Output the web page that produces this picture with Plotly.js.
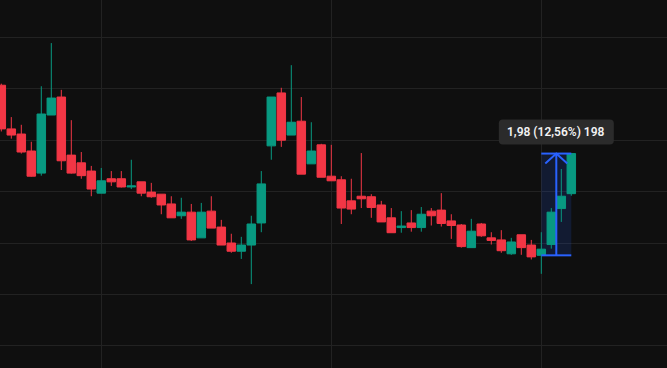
<!DOCTYPE html>
<html>
<head>
<meta charset="utf-8">
<script src="https://cdn.plot.ly/plotly-3.0.1.min.js"></script>
<style>
html,body{margin:0;padding:0;background:#0f0f0f;overflow:hidden}
#chart{width:667px;height:368px}
</style>
</head>
<body>
<div id="chart"></div>
<script>
// Candle values (price), one entry per bar, left to right
const opens  = [19.07,18.22,18.12,17.79,17.36,18.49,18.84,17.71,17.56,17.40,16.97,17.25,17.25,17.09,17.19,16.99,16.95,16.76,16.53,16.60,16.10,16.62,16.31,16.00,15.84,15.96,16.39,17.89,18.92,18.10,18.37,17.54,17.91,17.30,17.23,16.82,16.91,16.90,16.74,16.49,16.30,16.39,16.30,16.62,16.64,16.43,16.35,15.91,16.37,16.10,16.06,15.79,16.16,15.96,15.76,15.97,16.67,16.96];
const highs  = [19.10,18.45,18.30,17.97,19.05,19.89,18.98,18.39,17.77,17.50,17.46,17.40,17.40,17.62,17.19,17.17,16.95,16.91,16.88,16.76,16.78,16.91,16.45,16.18,16.12,16.53,17.40,18.84,19.02,19.46,18.84,18.35,17.93,17.91,17.30,17.25,17.75,16.95,16.82,16.68,16.62,16.64,16.70,16.68,16.97,16.56,16.37,16.47,16.39,16.21,16.25,16.10,16.16,16.06,16.21,16.68,17.44,17.74];
const lows   = [18.17,18.03,17.74,17.29,17.31,18.49,17.42,17.35,17.25,16.91,16.97,17.11,17.08,17.05,16.91,16.88,16.56,16.49,16.47,16.04,16.10,16.29,15.96,15.81,15.69,15.20,16.21,17.62,17.87,18.10,17.34,17.54,17.28,17.21,16.37,16.56,16.68,16.49,16.41,16.20,16.20,16.22,16.22,16.34,16.32,16.08,15.91,15.91,16.12,15.97,15.81,15.77,15.77,15.68,15.40,15.89,16.41,16.92];
const closes = [18.22,18.10,17.77,17.30,18.51,18.82,17.60,17.36,17.31,17.05,17.21,17.19,17.09,17.11,16.97,16.90,16.74,16.49,16.60,16.06,16.60,16.29,15.96,15.84,15.96,16.37,17.15,18.84,18.00,18.35,17.34,17.79,17.28,17.21,16.68,16.66,16.86,16.69,16.41,16.20,16.33,16.30,16.56,16.53,16.38,16.34,15.93,16.23,16.14,16.05,15.85,16.02,15.91,15.73,15.88,16.60,16.91,17.74];

// Bars where time grid lines fall
const timeGridBars = [10, 33, 54];
// Price measurement: from the open of one bar to the close of another
const measureStartBar = 54;
const measureEndBar = 57;

const bars = opens.map((_, i) => i);

const UP = '#089981', DOWN = '#F23645', BLUE = '#2962FF';
const GRID = '#222222', BG = '#0f0f0f';

const fromPrice = opens[measureStartBar];
const toPrice = closes[measureEndBar];
const diff = toPrice - fromPrice;
const pct = diff / fromPrice * 100;
const ticks = Math.round(diff * 100);
const labelText = diff.toFixed(2).replace('.', ',') + ' (' + pct.toFixed(2).replace('.', ',') + '%) ' + ticks;
const midBar = (measureStartBar + measureEndBar) / 2;

const trace = {
  type: 'candlestick',
  x: bars, open: opens, high: highs, low: lows, close: closes,
  increasing: {line: {color: UP, width: 1}, fillcolor: UP},
  decreasing: {line: {color: DOWN, width: 1}, fillcolor: DOWN},
  whiskerwidth: 0,
  hoverinfo: 'skip',
  showlegend: false
};

const layout = {
  width: 667, height: 368,
  margin: {l: 0, r: 0, t: 0, b: 0, pad: 0},
  paper_bgcolor: BG, plot_bgcolor: BG,
  showlegend: false,
  boxgap: 0.15, boxgroupgap: 0,
  xaxis: {
    range: [-0.13, 66.57], tickmode: 'array', tickvals: timeGridBars,
    showticklabels: false, ticks: '', showgrid: true, gridcolor: GRID, gridwidth: 1,
    zeroline: false, showline: false, rangeslider: {visible: false}, fixedrange: true
  },
  yaxis: {
    range: [13.568, 20.728], tick0: 0, dtick: 1,
    showticklabels: false, ticks: '', showgrid: true, gridcolor: GRID, gridwidth: 1,
    zeroline: false, showline: false, fixedrange: true
  },
  shapes: [
    {type: 'rect', layer: 'between', xref: 'x', yref: 'y',
     x0: measureStartBar, x1: measureEndBar, y0: fromPrice, y1: toPrice,
     fillcolor: 'rgba(41,98,255,0.15)', line: {width: 0}},
    {type: 'line', layer: 'above', xref: 'x', yref: 'y',
     x0: measureStartBar, x1: measureEndBar, y0: toPrice, y1: toPrice, line: {color: BLUE, width: 2}},
    {type: 'line', layer: 'above', xref: 'x', yref: 'y',
     x0: measureStartBar, x1: measureEndBar, y0: fromPrice, y1: fromPrice, line: {color: BLUE, width: 2}},
    {type: 'line', layer: 'above', xref: 'x', yref: 'y',
     x0: midBar, x1: midBar, y0: fromPrice, y1: toPrice, line: {color: BLUE, width: 2}},
    {type: 'path', layer: 'above', xref: 'x', yref: 'y',
     xsizemode: 'pixel', ysizemode: 'pixel', xanchor: midBar, yanchor: toPrice,
     path: 'M -11,-10 L 0,0 L 11,-10', line: {color: BLUE, width: 2}},
    {type: 'path', layer: 'above', xref: 'x', yref: 'y',
     xsizemode: 'pixel', ysizemode: 'pixel', xanchor: midBar, yanchor: toPrice,
     path: 'M -53.5,9 L 53.5,9 Q 57.5,9 57.5,13 L 57.5,30 Q 57.5,34 53.5,34 L -53.5,34 Q -57.5,34 -57.5,30 L -57.5,13 Q -57.5,9 -53.5,9 Z',
     fillcolor: '#2b2b2b', line: {width: 0}}
  ],
  annotations: [
    {xref: 'x', yref: 'y', x: midBar, y: toPrice, yshift: 21.5,
     xanchor: 'center', yanchor: 'middle', showarrow: false,
     text: labelText,
     font: {family: 'Roboto, "Open Sans", sans-serif', size: 12, color: '#f2f2f2', weight: 600}}
  ]
};

Plotly.newPlot('chart', [trace], layout, {staticPlot: true, displayModeBar: false});
</script>
</body>
</html>
